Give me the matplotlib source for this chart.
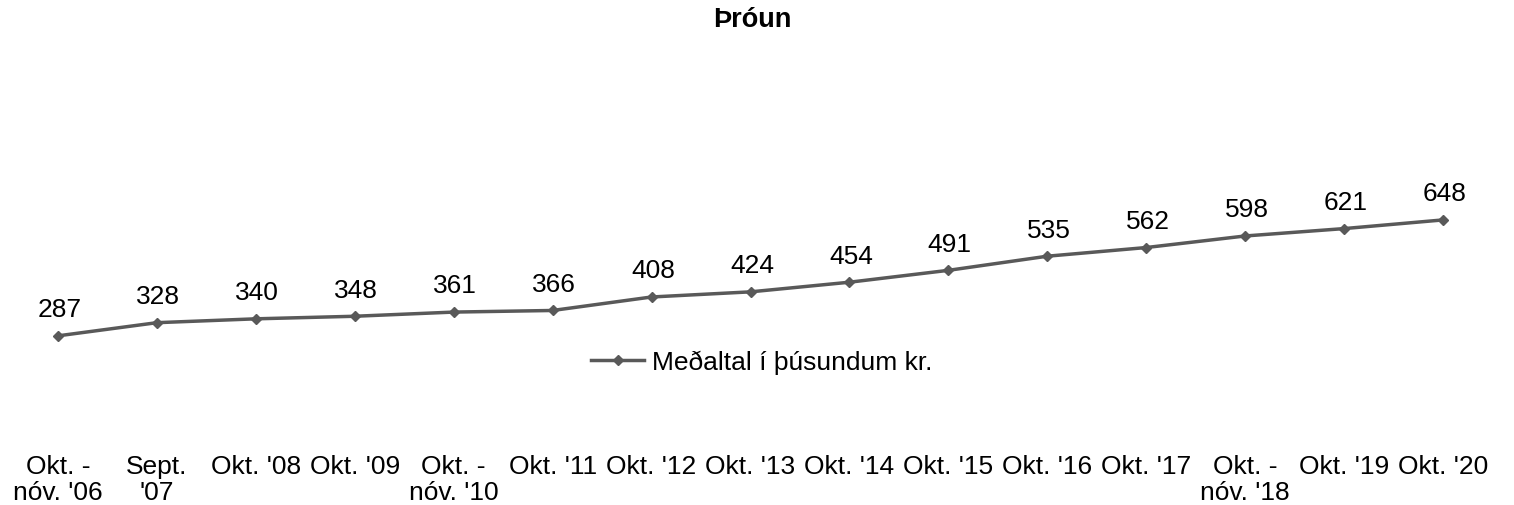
import matplotlib
matplotlib.use("Agg")
import matplotlib.pyplot as plt
from matplotlib.lines import Line2D

plt.rcParams['font.family'] = ['Liberation Sans', 'DejaVu Sans']

categories = ["Okt. -\nnóv. '06", "Sept.\n'07", "Okt. '08", "Okt. '09", "Okt. -\nnóv. '10",
              "Okt. '11", "Okt. '12", "Okt. '13", "Okt. '14", "Okt. '15", "Okt. '16",
              "Okt. '17", "Okt. -\nnóv. '18", "Okt. '19", "Okt. '20"]
values = [287, 328, 340, 348, 361, 366, 408, 424, 454, 491, 535, 562, 598, 621, 648]
series_name = "Meðaltal í þúsundum kr."
title = "Þróun"

W, H = 1514, 506
fig = plt.figure(figsize=(W / 100, H / 100), dpi=100)
left, right = 8.5, 1492.5
bottom_px, top_px = 429.0, 140.0
ax = fig.add_axes([left / W, 1 - bottom_px / H, (right - left) / W, (bottom_px - top_px) / H])
ax.set_xlim(-0.5, len(values) - 0.5)
ax.set_ylim(0, 900)

color = "#595959"
x = list(range(len(values)))
ax.plot(x, values, color=color, lw=2.5, marker="D", ms=5, mec=color, mfc=color,
        solid_capstyle="round")
for xi, v in zip(x, values):
    ax.annotate(str(v), (xi, v), xytext=(1, 10.5), textcoords="offset points",
                ha="center", va="bottom", fontsize=19, color="black")

for s in ax.spines.values():
    s.set_visible(False)
ax.set_yticks([])
ax.set_xticks(x)
ax.set_xticklabels(categories, fontsize=19, color="black", linespacing=1.08)
ax.tick_params(axis="x", length=0, pad=19)
for lbl in ax.get_xticklabels():
    lbl.set_va("top")

fig.text(752 / W, 1 - 20 / H, title, ha="center", va="center", fontsize=19.5, fontweight="bold")

handle = Line2D([0], [0], color=color, lw=2.5, marker="D", ms=5, mfc=color, mec=color)
fig.legend([handle], [series_name], loc="center", bbox_to_anchor=(762 / W, 1 - 363 / H),
           frameon=False, fontsize=19, handlelength=2.0, handletextpad=0.3)

fig.savefig("out.png", dpi=100)
